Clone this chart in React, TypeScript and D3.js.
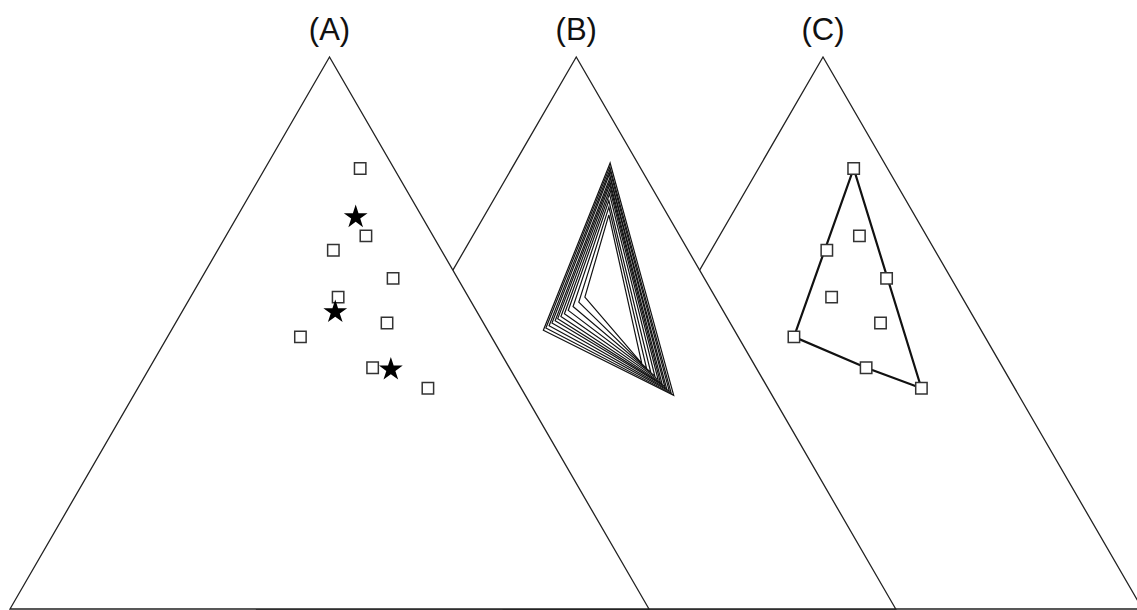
import React, { useEffect, useRef } from "react";
import { select, scalePoint, scaleLinear, line, polygonHull, symbol, symbolStar, symbolSquare } from "d3";

// panel titles
const panelLabels = ["(A)", "(B)", "(C)"];

// sample points, ternary fractions (top component, right component)
const squareTop = [0.798, 0.676, 0.65, 0.599, 0.565, 0.518, 0.493, 0.437, 0.4];
const squareRight = [0.149, 0.219, 0.181, 0.3, 0.231, 0.331, 0.208, 0.349, 0.454];

const starTop = [0.71, 0.538, 0.434];
const starRight = [0.186, 0.24, 0.379];

// nested depth triangles in panel B, one entry per contour: [top, right]
const nestTopVertex = [
  [0.808, 0.149], [0.801, 0.152], [0.795, 0.155], [0.788, 0.158], [0.782, 0.162], [0.775, 0.165],
  [0.769, 0.168], [0.761, 0.172], [0.752, 0.176], [0.74, 0.181], [0.728, 0.187], [0.714, 0.194],
];
const nestLeftVertex = [
  [0.505, 0.196], [0.509, 0.198], [0.513, 0.201], [0.518, 0.203], [0.522, 0.206], [0.526, 0.208],
  [0.53, 0.211], [0.535, 0.214], [0.541, 0.217], [0.548, 0.221], [0.556, 0.226], [0.565, 0.231],
];
const nestRightVertex = [
  [0.387, 0.459], [0.391, 0.453], [0.395, 0.448], [0.399, 0.442], [0.403, 0.437], [0.407, 0.431],
  [0.411, 0.426], [0.416, 0.42], [0.422, 0.412], [0.429, 0.402], [0.436, 0.392], [0.445, 0.38],
];

const App = () => {
  const svgRef = useRef<SVGSVGElement>(null);

  useEffect(() => {
    const width = 1137;
    const height = 610;
    const baseY = 609;
    const apexY = 57;
    const halfBase = 319.5;

    const svg = select(svgRef.current);
    svg.selectAll("*").remove();
    svg.attr("width", width).attr("height", height);

    const panelX = scalePoint<string>().domain(panelLabels).range([329.5, 823]);
    const y = scaleLinear().domain([0, 1]).range([baseY, apexY]);

    // ternary (top, right) -> pixel, for one panel
    const projector = (label: string) => {
      const cx = panelX(label) as number;
      const x = scaleLinear().domain([0, 1]).range([cx - halfBase, cx + halfBase]);
      return (p: number[]): [number, number] => [x(p[1] + p[0] / 2), y(p[0])];
    };

    const squares = squareTop.map((t, i) => [t, squareRight[i]]);
    const stars = starTop.map((t, i) => [t, starRight[i]]);
    const poly = line<[number, number]>();

    const drawSquares = (g: any, pts: [number, number][]) => {
      g.selectAll("path.sq")
        .data(pts)
        .enter()
        .append("path")
        .attr("class", "sq")
        .attr("d", symbol().type(symbolSquare).size(130)())
        .attr("transform", (d: [number, number]) => `translate(${d[0]},${d[1]})`)
        .attr("fill", "#fff")
        .attr("stroke", "#333")
        .attr("stroke-width", 1.5);
    };

    // back to front so A covers B covers C
    [...panelLabels].reverse().forEach((label) => {
      const proj = projector(label);
      const g = svg.append("g");
      const corners = [[1, 0], [0, 0], [0, 1]].map(proj);

      g.append("path")
        .attr("d", poly(corners) + "Z")
        .attr("fill", "#fff")
        .attr("stroke", "#222")
        .attr("stroke-width", 1.3);

      g.append("text")
        .attr("x", panelX(label) as number)
        .attr("y", 40)
        .attr("text-anchor", "middle")
        .attr("font-family", "Liberation Sans, Arial, sans-serif")
        .attr("font-size", 31)
        .attr("fill", "#111")
        .text(label);

      if (label === "(A)") {
        drawSquares(g, squares.map(proj));
        g.selectAll("path.star")
          .data(stars.map(proj))
          .enter()
          .append("path")
          .attr("class", "star")
          .attr("d", symbol().type(symbolStar).size(175)())
          .attr("transform", (d) => `translate(${d[0]},${d[1]})`)
          .attr("fill", "#000");
      }

      if (label === "(B)") {
        nestTopVertex.forEach((top, i) => {
          const tri = [top, nestLeftVertex[i], nestRightVertex[i]].map(proj);
          g.append("path")
            .attr("d", poly(tri) + "Z")
            .attr("fill", "none")
            .attr("stroke", "#111")
            .attr("stroke-width", 1.2)
            .attr("stroke-linejoin", "miter");
        });
      }

      if (label === "(C)") {
        const pts = squares.map(proj);
        const hull = polygonHull(pts) as [number, number][];
        g.append("path")
          .attr("d", poly(hull) + "Z")
          .attr("fill", "none")
          .attr("stroke", "#111")
          .attr("stroke-width", 2.2);
        drawSquares(g, pts);
      }
    });
  }, []);

  return <svg ref={svgRef} style={{ position: "absolute", left: 0, top: 0, background: "#fff" }}></svg>;
};

export default App;
